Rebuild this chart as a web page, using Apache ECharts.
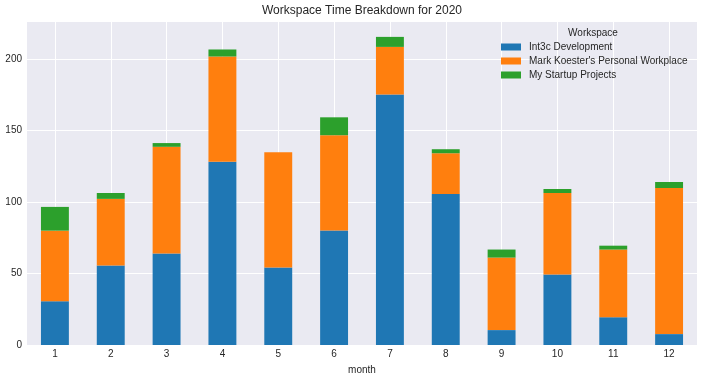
<!DOCTYPE html>
<html><head><meta charset="utf-8">
<script src="https://cdn.jsdelivr.net/npm/echarts@6/dist/echarts.min.js"></script>
<style>html,body{margin:0;padding:0;background:#fff}#c{width:704px;height:380px}</style>
</head><body><div id="c"></div>
<script>
const months = ['1','2','3','4','5','6','7','8','9','10','11','12'];
const int3c = [30.6, 55.6, 64, 128, 54.2, 80, 175, 105.6, 10.4, 49.3, 19.4, 7.6];
const markPersonal = [49.3, 46.5, 74.5, 73.6, 80.5, 66.6, 33.3, 28.4, 50.7, 56.9, 47.3, 102.1];
const startup = [16.6, 4.1, 2.6, 4.9, 0, 12.5, 7, 2.8, 5.6, 2.8, 2.7, 4.2];
const seriesNames = ['Int3c Development', "Mark Koester's Personal Workplace", 'My Startup Projects'];
const colors = ['#1f77b4', '#ff7f0e', '#2ca02c'];
const yTicks = [0, 50, 100, 150, 200];

const font = 'Liberation Sans, Arial, sans-serif';
const txt = '#262626';
const chart = echarts.init(document.getElementById('c'));
const helperCats = Array.from({length: months.length * 2 + 1}, () => '');
const valuesList = [int3c, markPersonal, startup];
chart.setOption({
  animation: false,
  textStyle: {fontFamily: font},
  title: [
    {text: 'Workspace Time Breakdown for 2020', left: 362, top: 5, padding: 0, textAlign: 'center',
     textStyle: {fontFamily: font, fontSize: 12, fontWeight: 'normal', color: txt}},
    {text: 'Workspace', left: 593, top: 28, padding: 0, textAlign: 'center',
     textStyle: {fontFamily: font, fontSize: 10, fontWeight: 'normal', color: txt}}
  ],
  legend: {
    orient: 'vertical', left: 501, top: 41, padding: 0, itemWidth: 20, itemHeight: 7, itemGap: 2,
    icon: 'rect', data: seriesNames,
    textStyle: {fontFamily: font, fontSize: 10, color: txt, lineHeight: 12, padding: [0,0,0,3]}
  },
  grid: {left: 27, right: 7, top: 21, bottom: 33, show: true, backgroundColor: '#EAEAF2', borderWidth: 0},
  xAxis: [
    {type: 'category', data: months, name: 'month', nameLocation: 'middle', nameGap: 20,
     nameTextStyle: {fontFamily: font, fontSize: 10, color: txt},
     axisLine: {show: false}, axisTick: {show: false},
     axisLabel: {fontFamily: font, fontSize: 10, color: txt, margin: 4},
     splitLine: {show: false}},
    {type: 'category', data: helperCats, boundaryGap: false, position: 'bottom',
     axisLine: {show: false}, axisTick: {show: false}, axisLabel: {show: false},
     splitLine: {show: true, interval: (i) => i % 2 === 1, lineStyle: {color: '#ffffff', width: 1}}}
  ],
  yAxis: {type: 'value', min: 0, max: 226.4, interval: 50,
    axisLine: {show: false}, axisTick: {show: false},
    axisLabel: {fontFamily: font, fontSize: 10, color: txt, margin: 5,
      formatter: (v) => yTicks.indexOf(v) >= 0 ? String(v) : ''},
    splitLine: {lineStyle: {color: '#ffffff', width: 1}}},
  series: seriesNames.map((n, k) => ({
    name: n, type: 'bar', stack: 'total', barWidth: '50%', xAxisIndex: 0,
    itemStyle: {color: colors[k]}, data: valuesList[k]
  }))
});
</script></body></html>
